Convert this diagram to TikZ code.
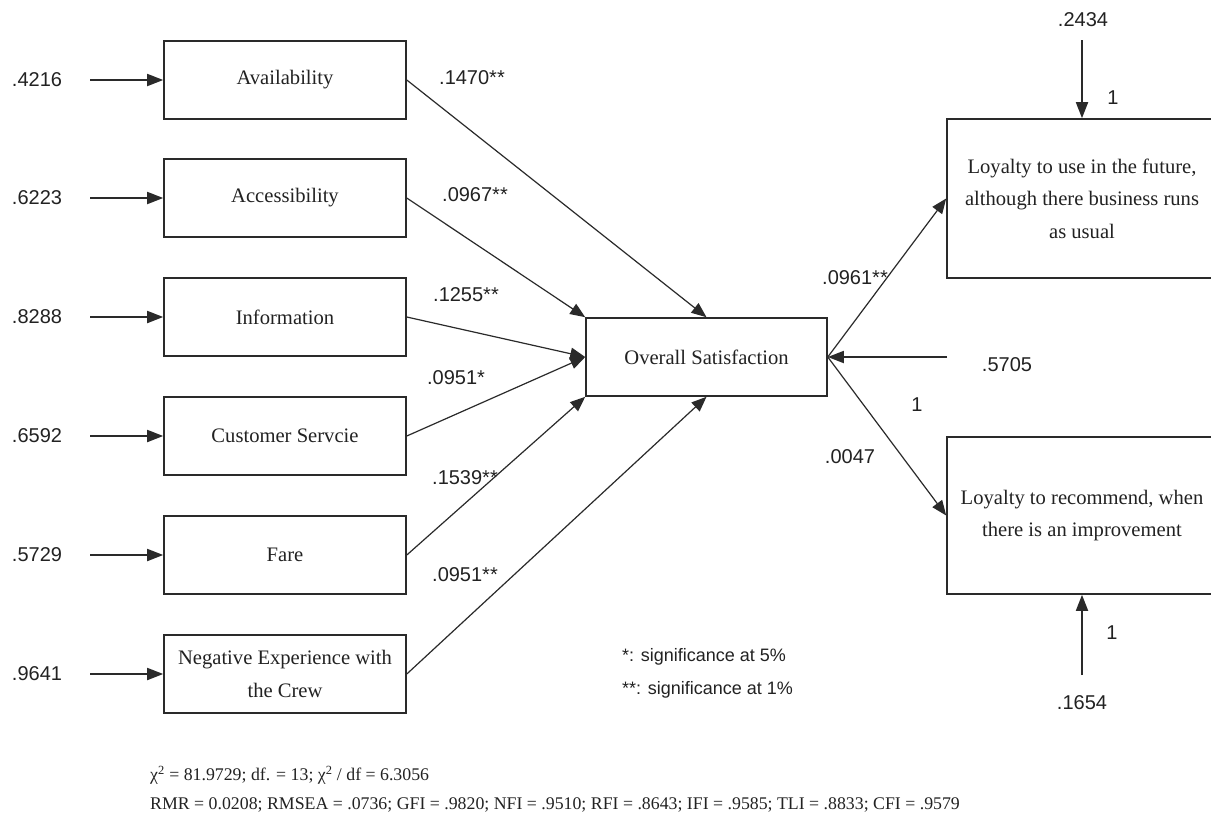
\documentclass[tikz,border=0pt]{standalone}
\usepackage{fontspec}
\setmainfont{Liberation Serif}
\newfontfamily\arialf{Liberation Sans}
\usetikzlibrary{arrows.meta}
\definecolor{linec}{HTML}{2A2A2A}
\definecolor{textc}{HTML}{222222}
\begin{document}
\begin{tikzpicture}[x=1pt,y=-1pt,
  box/.style={draw=linec, line width=1.6pt, rectangle, inner sep=0pt, text=textc, align=center, font=\fontsize{20.6}{32.5}\selectfont},
  num/.style={font=\arialf\fontsize{20}{24}\selectfont, text=textc, inner sep=0pt},
  legend/.style={font=\arialf\fontsize{18}{33}\selectfont, text=textc, inner sep=0pt, anchor=west},
  stat/.style={font=\fontsize{17.8}{30}\selectfont, text=textc, inner sep=0pt, anchor=west},
  arr/.style={-{Triangle[length=16pt,width=12pt]}, line width=1.8pt, draw=linec},
  link/.style={-{Triangle[length=15pt,width=12pt]}, line width=1.2pt, draw=linec},
]
\useasboundingbox[fill=white] (0,0) rectangle (1211,823);

% exogenous boxes
\node[box, minimum width=242pt, minimum height=78pt] (avail) at (285,80) {Availability};
\node[box, minimum width=242pt, minimum height=78pt] (access) at (285,198) {Accessibility};
\node[box, minimum width=242pt, minimum height=78pt] (info) at (285,317) {Information};
\node[box, minimum width=242pt, minimum height=78pt] (cust) at (285,436) {Customer Servcie};
\node[box, minimum width=242pt, minimum height=78pt] (fare) at (285,555) {Fare};
\node[box, minimum width=242pt, minimum height=78pt] (neg) at (285,674) {Negative Experience with\\the Crew};

% central and outcome boxes
\node[box, minimum width=241pt, minimum height=78pt] (overall) at (706.5,357) {Overall Satisfaction};
\node[box, minimum width=270pt, minimum height=159pt] (loy1) at (1082,198.5) {Loyalty to use in the future,\\although there business runs\\as usual};
\node[box, minimum width=270pt, minimum height=157pt] (loy2) at (1082,515.5) {Loyalty to recommend, when\\there is an improvement};

% error terms (left)
\node[num] (e1) at (37,80) {.4216};
\node[num] (e2) at (37,198) {.6223};
\node[num] (e3) at (37,317) {.8288};
\node[num] (e4) at (37,436) {.6592};
\node[num] (e5) at (37,555) {.5729};
\node[num] (e6) at (37,674) {.9641};
\coordinate (s1) at (90,80);
\coordinate (s2) at (90,198);
\coordinate (s3) at (90,317);
\coordinate (s4) at (90,436);
\coordinate (s5) at (90,555);
\coordinate (s6) at (90,674);
\draw[arr] (s1) -- (avail.west);
\draw[arr] (s2) -- (access.west);
\draw[arr] (s3) -- (info.west);
\draw[arr] (s4) -- (cust.west);
\draw[arr] (s5) -- (fare.west);
\draw[arr] (s6) -- (neg.west);

% error terms (right)
\node[num] (e7) at (1007,365) {.5705};
\node[num] (e8) at (1083,20) {.2434};
\node[num] (e9) at (1082,703) {.1654};
\node[num] (one1) at (1113,98) {1};
\node[num] (one2) at (1112,633) {1};
\node[num] (one3) at (917,405) {1};
\coordinate (s7) at (947,357);
\coordinate (s8) at (1082,40);
\coordinate (s9) at (1082,675);
\draw[arr] (s7) -- (overall.east);
\draw[arr] (s8) -- (loy1.north);
\draw[arr] (s9) -- (loy2.south);

% paths to overall satisfaction
\draw[link] (avail.east) -- (overall.north);
\draw[link] (access.east) -- (overall.north west);
\draw[link] (info.east) -- (overall.west);
\draw[link] (cust.east) -- (overall.west);
\draw[link] (fare.east) -- (overall.south west);
\draw[link] (neg.east) -- (overall.south);
\draw[link] (overall.east) -- (loy1.west);
\draw[link] (overall.east) -- (loy2.west);

% coefficients
\node[num] (c1) at (472,78) {.1470**};
\node[num] (c2) at (475,195) {.0967**};
\node[num] (c3) at (466,295) {.1255**};
\node[num] (c4) at (456,378) {.0951*};
\node[num] (c5) at (465,478) {.1539**};
\node[num] (c6) at (465,575) {.0951**};
\node[num] (c7) at (855,278) {.0961**};
\node[num] (c8) at (850,457) {.0047};

% legend
\node[legend] (l1) at (622,657) {*: significance at 5\%};
\node[legend] (l2) at (622,690) {**: significance at 1\%};

% fit statistics
\node[stat] (f1) at (150,775) {χ\textsuperscript{2} = 81.9729; df. = 13; χ\textsuperscript{2} / df = 6.3056};
\node[stat] (f2) at (150,805) {RMR = 0.0208; RMSEA = .0736; GFI = .9820; NFI = .9510; RFI = .8643; IFI = .9585; TLI = .8833; CFI = .9579};
\end{tikzpicture}
\end{document}
